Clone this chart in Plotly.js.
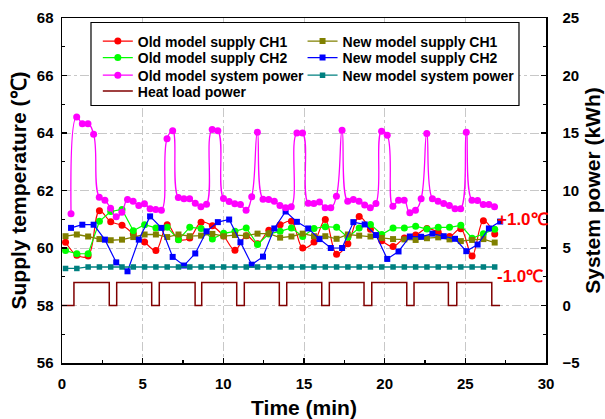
<!DOCTYPE html>
<html>
<head>
<meta charset="utf-8">
<script src="https://cdn.plot.ly/plotly-3.0.1.min.js"></script>
<style>
  html, body { margin: 0; padding: 0; background: #fff; }
  #chart { width: 605px; height: 419px; }
</style>
</head>
<body>
<div id="chart"></div>
<script>
// Sample times (min) for the 0.7-min logged channels
const tSupply = [0.22, 0.92, 1.62, 2.32, 3.02, 3.72, 4.42, 5.12, 5.82, 6.52, 7.22, 7.92, 8.62, 9.32,
  10.02, 10.72, 11.42, 12.12, 12.82, 13.52, 14.22, 14.92, 15.62, 16.32, 17.02, 17.72, 18.42, 19.12,
  19.82, 20.52, 21.22, 21.92, 22.62, 23.32, 24.02, 24.72, 25.42, 26.12, 26.82];
// New model CH2 is logged half a step later
const tNewCh2 = [0.56, 1.26, 1.96, 2.66, 3.36, 4.06, 4.76, 5.46, 6.16, 6.86, 7.56, 8.26, 8.96, 9.66,
  10.36, 11.06, 11.76, 12.46, 13.16, 13.86, 14.56, 15.26, 15.96, 16.66, 17.36, 18.06, 18.76, 19.46,
  20.16, 20.86, 21.56, 22.26, 22.96, 23.66, 24.36, 25.06, 25.76, 26.46, 27.16];
// Old model system power is logged every 0.35 min
const tOldPower = [0.56, 0.91, 1.26, 1.61, 1.96, 2.31, 2.66, 3.01, 3.36, 3.71, 4.06, 4.41, 4.76, 5.11,
  5.46, 5.81, 6.16, 6.51, 6.86, 7.21, 7.56, 7.91, 8.26, 8.61, 8.96, 9.31, 9.66, 10.01, 10.36, 10.71,
  11.06, 11.41, 11.76, 12.11, 12.46, 12.81, 13.16, 13.51, 13.86, 14.21, 14.56, 14.91, 15.26, 15.61,
  15.96, 16.31, 16.66, 17.01, 17.36, 17.71, 18.06, 18.41, 18.76, 19.11, 19.46, 19.81, 20.16, 20.51,
  20.86, 21.21, 21.56, 21.91, 22.26, 22.61, 22.96, 23.31, 23.66, 24.01, 24.36, 24.71, 25.06, 25.41,
  25.76, 26.11, 26.46, 26.81];

// Supply temperatures (°C)
const oldCh1 = [60.20, 59.75, 59.72, 61.30, 60.91, 60.79, 60.50, 60.21, 59.91, 60.81, 60.30, 60.35,
  60.90, 60.77, 60.42, 59.92, 60.43, 60.15, 60.62, 60.81, 60.93, 60.00, 60.21, 60.99, 59.78, 60.15,
  61.10, 60.65, 60.25, 60.05, 60.35, 60.45, 60.68, 60.55, 60.40, 60.67, 59.72, 60.95, 60.49];
const oldCh2 = [59.91, 59.80, 59.80, 60.93, 61.27, 61.34, 60.60, 60.81, 60.70, 60.72, 60.29, 60.72,
  60.68, 60.31, 60.51, 60.58, 60.70, 60.12, 60.49, 60.58, 60.70, 60.40, 60.68, 60.74, 60.72, 60.37,
  60.70, 60.82, 60.47, 60.70, 60.70, 60.76, 60.66, 60.72, 60.72, 60.79, 60.34, 60.50, 60.65];
const newCh1 = [60.41, 60.47, 60.40, 60.31, 60.27, 60.29, 60.38, 60.47, 60.47, 60.38, 60.47, 60.41,
  60.43, 60.49, 60.41, 60.45, 60.43, 60.50, 60.50, 60.36, 60.40, 60.50, 60.41, 60.41, 60.32, 60.47,
  60.43, 60.40, 60.35, 60.31, 60.30, 60.28, 60.34, 60.37, 60.30, 60.24, 60.28, 60.31, 60.19];
const newCh2 = [60.70, 60.81, 60.81, 60.29, 59.50, 59.19, 60.29, 61.10, 60.70, 59.69, 59.39, 59.81,
  60.58, 60.90, 60.99, 60.20, 59.42, 59.70, 60.68, 61.27, 60.91, 60.68, 60.31, 60.00, 60.00, 60.90,
  60.82, 60.45, 59.62, 59.88, 60.40, 60.39, 60.50, 60.41, 60.32, 59.89, 60.12, 60.68, 60.92];

// System power (kWh)
const oldPower = [7.97, 16.4, 15.8, 15.8, 14.9, 9.42, 9.16, 8.46, 7.71, 8.11,
  9.22, 9.07, 8.7, 8.84, 8.41, 8.35, 8.29, 14.5, 15.2, 9.39,
  9.28, 9.28, 8.9, 8.58, 8.81, 15.3, 15.2, 9.3, 9.04, 8.84,
  8.78, 8.29, 9.45, 15.07, 9.25, 9.22, 9.07, 8.7, 8.5, 8.58,
  15.0, 15.0, 8.9, 8.87, 8.99, 8.5, 8.5, 9.51, 15.25, 9.07,
  9.22, 9.07, 8.75, 8.5, 8.87, 15.16, 14.81, 8.64, 9.16, 9.16,
  8.06, 8.29, 9.28, 14.96, 9.28, 9.07, 8.87, 8.7, 8.41, 8.41,
  15.07, 9.16, 9.13, 8.78, 8.78, 8.58];
const newPower = [3.22, 3.22, 3.35, 3.35, 3.35, 3.35, 3.35, 3.35, 3.35, 3.35, 3.35, 3.35, 3.35,
  3.35, 3.35, 3.35, 3.35, 3.35, 3.35, 3.35, 3.35, 3.35, 3.35, 3.35, 3.35, 3.35, 3.35, 3.35, 3.35,
  3.35, 3.35, 3.35, 3.35, 3.35, 3.35, 3.35, 3.35, 3.35, 3.35];

// Heat load on/off switching (kWh)
const heatTime = [0, 0.74, 2.93, 3.39, 5.56, 6.03, 8.25, 8.66, 10.83, 11.3, 13.47, 13.93, 16.1,
  16.57, 18.72, 19.2, 21.37, 21.82, 23.95, 24.47, 26.64, 27.15];
const heatPower = [0, 2, 0, 2, 0, 2, 0, 2, 0, 2, 0, 2, 0, 2, 0, 2, 0, 2, 0, 2, 0, 0];

const seriesNames = ['Old model supply CH1', 'Old model supply CH2', 'Old model system power',
  'Heat load power', 'New model supply CH1', 'New model supply CH2', 'New model system power'];
const bandLabels = ['+1.0℃', '-1.0℃'];
const bandLevels = [61.0, 59.0];

const FONT = 'Liberation Sans, Arial, Helvetica, sans-serif';

const traces = [
  { x: tSupply, y: oldCh1, name: seriesNames[0], legend: 'legend', mode: 'lines+markers',
    line: { color: '#ff0000', width: 1.2, shape: 'spline', smoothing: 1.0 },
    marker: { symbol: 'circle', size: 7, color: '#ff0000' } },
  { x: tSupply, y: oldCh2, name: seriesNames[1], legend: 'legend2', mode: 'lines+markers',
    line: { color: '#00ff00', width: 1.2 },
    marker: { symbol: 'circle', size: 7, color: '#00ff00' } },
  { x: tOldPower, y: oldPower, name: seriesNames[2], legend: 'legend3', yaxis: 'y2', mode: 'lines+markers',
    line: { color: '#ff00ff', width: 1.3, shape: 'spline', smoothing: 1.3 },
    marker: { symbol: 'circle', size: 7, color: '#ff00ff' } },
  { x: heatTime, y: heatPower, name: seriesNames[3], legend: 'legend4', yaxis: 'y2', mode: 'lines',
    line: { color: '#800000', width: 1.5, shape: 'hv' } },
  { x: tSupply, y: newCh1, name: seriesNames[4], legend: 'legend5', mode: 'lines+markers',
    line: { color: '#808000', width: 1.3 },
    marker: { symbol: 'square', size: 6, color: '#808000' } },
  { x: tNewCh2, y: newCh2, name: seriesNames[5], legend: 'legend6', mode: 'lines+markers',
    line: { color: '#0000ff', width: 1.2 },
    marker: { symbol: 'square', size: 6, color: '#0000ff' } },
  { x: tSupply, y: newPower, name: seriesNames[6], legend: 'legend7', yaxis: 'y2', mode: 'lines+markers',
    line: { color: '#008080', width: 1.3 },
    marker: { symbol: 'square', size: 5.5, color: '#008080' } }
];

// Legend laid out in two columns, one entry per legend box
const legFont = { family: FONT, size: 14, color: '#000', weight: 'bold' };
function legendAt(x, y) {
  return { x: x, y: y, xanchor: 'left', yanchor: 'middle', bgcolor: 'rgba(0,0,0,0)',
    borderwidth: 0, font: legFont, itemclick: false, itemdoubleclick: false };
}
const col1 = 0.074, col2 = 0.497;
const rows = [0.932, 0.884, 0.833, 0.787];

const tickFont = { family: FONT, size: 15, color: '#000', weight: 'bold' };
const titleFont = { family: FONT, size: 21, color: '#000', weight: 'bold' };

const layout = {
  width: 605, height: 419,
  margin: { l: 62, r: 59, t: 18, b: 56, pad: 0 },
  paper_bgcolor: '#fff', plot_bgcolor: '#fff',
  showlegend: true,
  legend: legendAt(col1, rows[0]),
  legend2: legendAt(col1, rows[1]),
  legend3: legendAt(col1, rows[2]),
  legend4: legendAt(col1, rows[3]),
  legend5: legendAt(col2, rows[0]),
  legend6: legendAt(col2, rows[1]),
  legend7: legendAt(col2, rows[2]),
  xaxis: {
    range: [0, 30], dtick: 5, tick0: 0, ticks: 'inside', ticklen: 5, tickwidth: 1.2, tickcolor: '#000',
    showline: true, linecolor: '#000', linewidth: 1.5, mirror: true,
    showgrid: true, gridcolor: '#c8c8c8', griddash: 'dashdot', gridwidth: 1,
    minor: { dtick: 2.5, ticks: 'inside', ticklen: 3, tickcolor: '#000', showgrid: false },
    zeroline: false, tickfont: tickFont, ticklabelstandoff: 6,
    title: { text: 'Time (min)', font: titleFont, standoff: 10 }
  },
  yaxis: {
    range: [56, 68], dtick: 2, tick0: 56, ticks: 'inside', ticklen: 5, tickwidth: 1.2, tickcolor: '#000',
    showline: true, linecolor: '#000', linewidth: 1.5, mirror: true,
    showgrid: true, gridcolor: '#c8c8c8', griddash: 'dashdot', gridwidth: 1,
    minor: { dtick: 1, ticks: 'inside', ticklen: 3, tickcolor: '#000', showgrid: false },
    zeroline: false, tickfont: tickFont, ticklabelstandoff: 4,
    title: { text: 'Supply temperature (℃)', font: titleFont, standoff: 4 }
  },
  yaxis2: {
    overlaying: 'y', side: 'right', anchor: 'x',
    range: [-5, 25], dtick: 5, tick0: -5, ticks: 'inside', ticklen: 5, tickwidth: 1.2, tickcolor: '#000',
    showline: true, linecolor: '#000', linewidth: 1.5, showgrid: false, zeroline: false,
    minor: { dtick: 2.5, ticks: 'inside', ticklen: 3, tickcolor: '#000', showgrid: false },
    tickfont: tickFont, ticklabelstandoff: 12,
    title: { text: 'System power (kWh)', font: titleFont, standoff: 6 }
  },
  shapes: [{
    type: 'rect', xref: 'paper', yref: 'paper', x0: 0.0599, x1: 0.9442, y0: 0.7464, y1: 0.987,
    line: { color: '#000', width: 1.2 }, fillcolor: '#fff', layer: 'above'
  }],
  annotations: bandLabels.map((txt, i) => ({
    text: txt, x: 26.84, y: bandLevels[i], xref: 'x', yref: 'y', xanchor: 'left', yanchor: 'middle',
    showarrow: false, font: { family: FONT, size: 17, color: '#ff0000', weight: 'bold' }
  }))
};

Plotly.newPlot('chart', traces, layout, { staticPlot: true, displayModeBar: false });
</script>
</body>
</html>
